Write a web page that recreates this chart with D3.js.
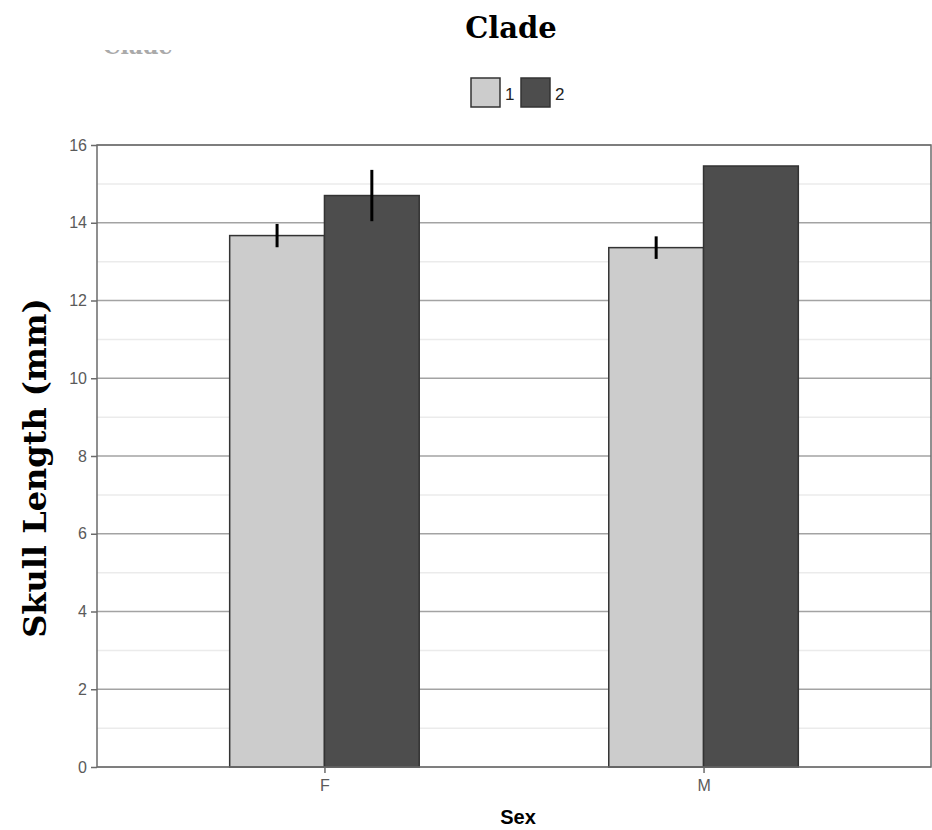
<!DOCTYPE html>
<html>
<head>
<meta charset="utf-8">
<script src="https://cdn.jsdelivr.net/npm/d3@7"></script>
<style>
  body { margin: 0; background: #fff; }
  svg { display: block; }
</style>
</head>
<body>
<svg width="932" height="830"></svg>
<script>
// data
var sexes = ["F", "M"],
    clades = ["1", "2"],
    meanF = [13.67, 14.70],
    meanM = [13.36, 15.46],
    errF = [0.30, 0.66],
    errM = [0.29, null],
    yTicks = [0, 2, 4, 6, 8, 10, 12, 14, 16],
    fills = ["#cccccc", "#4d4d4d"];

var svg = d3.select("svg"),
    pLeft = 97, pRight = 931, pTop = 145, pBottom = 767;

var bars = [];
sexes.forEach(function(s, i) {
  var means = i == 0 ? meanF : meanM,
      errs = i == 0 ? errF : errM;
  clades.forEach(function(c, j) {
    bars.push({ sex: s, clade: c, value: means[j], err: errs[j] });
  });
});

// ggplot-like spacing: centres at 0.6 and 1.6 of 2.2 units
var unit = (pRight - pLeft) / 2.2;
var x = d3.scalePoint().domain(sexes).range([pLeft + unit * 0.6, pLeft + unit * 1.6]);
var xc = d3.scaleBand().domain(clades).range([-unit * 0.25, unit * 0.25]);
var y = d3.scaleLinear().domain([0, 16]).range([pBottom, pTop]);

// minor grid
svg.append("g").selectAll("line")
  .data(d3.range(1, 16, 2))
  .enter().append("line")
  .attr("x1", pLeft).attr("x2", pRight)
  .attr("y1", function(d) { return y(d); }).attr("y2", function(d) { return y(d); })
  .attr("stroke", "#ebebeb").attr("stroke-width", 1.5);

// major grid
svg.append("g").selectAll("line")
  .data(yTicks)
  .enter().append("line")
  .attr("x1", pLeft).attr("x2", pRight)
  .attr("y1", function(d) { return y(d); }).attr("y2", function(d) { return y(d); })
  .attr("stroke", "#a3a3a3").attr("stroke-width", 1.5);

// bars
svg.append("g").selectAll("rect")
  .data(bars)
  .enter().append("rect")
  .attr("x", function(d) { return x(d.sex) + xc(d.clade); })
  .attr("width", xc.bandwidth())
  .attr("y", function(d) { return y(d.value); })
  .attr("height", function(d) { return y(0) - y(d.value); })
  .attr("fill", function(d) { return fills[clades.indexOf(d.clade)]; })
  .attr("stroke", "#333").attr("stroke-width", 1.5);

// error bars
svg.append("g").selectAll("line")
  .data(bars.filter(function(d) { return d.err != null; }))
  .enter().append("line")
  .attr("x1", function(d) { return x(d.sex) + xc(d.clade) + xc.bandwidth() / 2; })
  .attr("x2", function(d) { return x(d.sex) + xc(d.clade) + xc.bandwidth() / 2; })
  .attr("y1", function(d) { return y(d.value - d.err); })
  .attr("y2", function(d) { return y(d.value + d.err); })
  .attr("stroke", "#000").attr("stroke-width", 3);

// panel border
svg.append("rect")
  .attr("x", pLeft).attr("y", pTop)
  .attr("width", pRight - pLeft).attr("height", pBottom - pTop)
  .attr("fill", "none").attr("stroke", "#6b6b6b").attr("stroke-width", 1.5);

// axes
var yAxis = svg.append("g")
  .attr("transform", "translate(" + pLeft + ",0)")
  .call(d3.axisLeft(y).tickValues(yTicks).tickSize(6).tickPadding(4));
var xAxis = svg.append("g")
  .attr("transform", "translate(0," + pBottom + ")")
  .call(d3.axisBottom(x).tickSize(6).tickPadding(7));
[yAxis, xAxis].forEach(function(a) {
  a.select(".domain").remove();
  a.selectAll("line").attr("stroke", "#6b6b6b").attr("stroke-width", 1.5);
  a.selectAll("text").attr("fill", "#5a5a5a").style("font", "16px Arial, 'Liberation Sans', sans-serif");
});

// titles
svg.append("text")
  .attr("x", 511).attr("y", 38)
  .attr("text-anchor", "middle")
  .style("font", "bold 29px 'DejaVu Serif', serif")
  .text("Clade");

// faint cut-off remnant at upper left
svg.append("clipPath").attr("id", "cut")
  .append("rect").attr("x", 95).attr("y", 50).attr("width", 110).attr("height", 5);
svg.append("text")
  .attr("x", 103).attr("y", 54)
  .attr("clip-path", "url(#cut)")
  .attr("fill", "#aaa")
  .style("font", "bold 22px 'DejaVu Serif', serif")
  .text("Clade");

svg.append("text")
  .attr("transform", "translate(46,468) rotate(-90)")
  .attr("text-anchor", "middle")
  .style("font", "bold 32px 'DejaVu Serif', serif")
  .text("Skull Length (mm)");

svg.append("text")
  .attr("x", 518).attr("y", 824)
  .attr("text-anchor", "middle")
  .style("font", "bold 20px Arial, 'Liberation Sans', sans-serif")
  .text("Sex");

// legend
var leg = svg.append("g").selectAll("g")
  .data(clades)
  .enter().append("g")
  .attr("transform", function(d, i) { return "translate(" + (471 + i * 50) + ",78)"; });
leg.append("rect")
  .attr("width", 29).attr("height", 29)
  .attr("fill", function(d, i) { return fills[i]; })
  .attr("stroke", "#333").attr("stroke-width", 1.5);
leg.append("text")
  .attr("x", 34).attr("y", 22)
  .attr("fill", "#222")
  .style("font", "17px Arial, 'Liberation Sans', sans-serif")
  .text(function(d) { return d; });
</script>
</body>
</html>
